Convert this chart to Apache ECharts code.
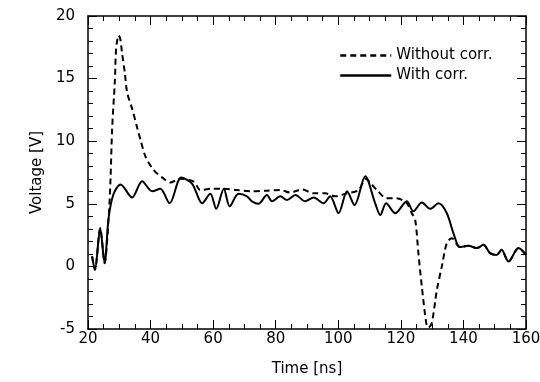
<!DOCTYPE html>
<html><head><meta charset="utf-8">
<script src="https://cdn.jsdelivr.net/npm/echarts@6/dist/echarts.min.js"></script>
<style>html,body{margin:0;padding:0;background:#fff}#c{width:540px;height:382px}</style>
</head><body><div id="c"></div>
<script>
var xTicks = [20, 40, 60, 80, 100, 120, 140, 160];
var yTicks = [-5, 0, 5, 10, 15, 20];
var seriesNames = ['Without corr.', 'With corr.'];
var withT = [21.3,22.2,23.9,25.3,26.6,28.2,30.4,34.1,37.3,40.5,43.1,46.1,49.8,53.3,56.5,59.1,61.0,63.4,65.3,68.1,70.8,72.4,74.5,77.2,78.8,81.5,83.6,86.3,89.4,92.1,95.3,97.4,100.1,102.8,105.2,108.6,111.8,113.4,115.3,118.2,121.9,124.0,126.7,129.4,132.0,134.7,136.8,138.9,141.6,144.3,146.4,148.5,150.6,152.2,154.4,157.6,160];
var withV = [0.8,-0.27,3.05,0.26,3.9,5.8,6.55,5.5,6.8,6.0,6.2,5.04,7.1,6.6,5.04,5.8,4.6,6.2,4.8,5.8,5.6,5.2,5.0,5.7,5.2,5.6,5.3,5.7,5.2,5.5,5.04,5.6,4.25,6.0,4.9,7.2,5.04,4.1,5.04,4.25,5.2,4.4,5.1,4.6,5.04,4.25,2.65,1.54,1.64,1.46,1.72,1.06,0.92,1.32,0.39,1.46,0.92];
var withoutT = [21.3,22.2,23.9,25.3,26.6,27.2,27.7,28.6,29.0,29.8,30.3,30.9,31.8,32.5,34.1,35.7,36.8,38.4,41.0,44.2,46.3,49.5,53.8,55.9,59.5,63.4,67.6,72.0,77.2,81.5,84.6,88.4,92.1,95.8,99.0,102.8,106.5,108.8,110.5,112.8,115.5,118.7,121.9,123.5,124.6,125.6,126.7,128.1,128.8,129.9,131.5,133.1,134.7,136.3,138.9,141.6,144.3,146.4,148.5,150.6,152.2,154.4,157.6,160];
var withoutV = [0.8,-0.27,3.05,0.26,3.9,7.0,10.9,14.9,17.4,18.45,18.2,17.0,15.4,13.9,12.6,11.1,10.1,8.76,7.7,7.0,6.7,7.0,6.77,6.1,6.2,6.2,6.1,6.0,6.05,6.1,5.9,6.15,5.84,5.84,5.6,5.84,6.1,7.0,6.6,5.97,5.44,5.44,5.04,4.25,3.7,1.06,-1.6,-4.5,-4.9,-4.5,-1.9,0,1.86,2.25,1.54,1.64,1.46,1.72,1.06,0.92,1.32,0.39,1.46,0.92];

function pairs(t, v) { return t.map(function (x, i) { return [x, v[i]]; }); }
var font = 'DejaVu Sans, Liberation Sans, Arial, sans-serif';
var fs = 15;
function axisBase(extra) {
  var a = {
    axisLine: { show: true, onZero: false, lineStyle: { color: '#000', width: 1.5 } },
    axisTick: { show: true, inside: true, length: 9, lineStyle: { color: '#000', width: 1 } },
    splitLine: { show: false },
    minorSplitLine: { show: false }
  };
  for (var k in extra) a[k] = extra[k];
  return a;
}
var chart = echarts.init(document.getElementById('c'), null, { renderer: 'canvas' });
chart.setOption({
  animation: false,
  backgroundColor: '#fff',
  textStyle: { fontFamily: font },
  grid: { left: 88, right: 14, top: 16, bottom: 53, containLabel: false, outerBoundsMode: 'none' },
  legend: {
    orient: 'vertical', left: 339, top: 48, itemWidth: 51, itemHeight: 14, itemGap: 5, padding: 0,
    itemStyle: { opacity: 0 },
    lineStyle: { width: 2.5 },
    textStyle: { fontSize: fs, color: '#000', fontFamily: font },
    data: seriesNames
  },
  xAxis: [
    axisBase({ type: 'value', min: xTicks[0], max: xTicks[xTicks.length - 1], interval: 20, position: 'bottom',
      minorTick: { show: true, splitNumber: 4, length: 5, lineStyle: { color: '#000' } },
      axisLabel: { fontSize: fs, color: '#000', margin: 3, fontFamily: font },
      name: 'Time [ns]', nameLocation: 'middle', nameGap: 33,
      nameTextStyle: { fontSize: fs, color: '#000', fontFamily: font } }),
    axisBase({ type: 'value', min: xTicks[0], max: xTicks[xTicks.length - 1], interval: 20, position: 'top',
      minorTick: { show: true, splitNumber: 4, length: 5, lineStyle: { color: '#000' } },
      axisLabel: { show: false } })
  ],
  yAxis: [
    axisBase({ type: 'value', min: yTicks[0], max: yTicks[yTicks.length - 1], interval: 5, position: 'left',
      minorTick: { show: true, splitNumber: 5, length: 5, lineStyle: { color: '#000' } },
      axisLabel: { fontSize: fs, color: '#000', margin: 13, fontFamily: font },
      name: 'Voltage [V]', nameLocation: 'middle', nameGap: 40,
      nameTextStyle: { fontSize: fs, color: '#000', fontFamily: font } }),
    axisBase({ type: 'value', min: yTicks[0], max: yTicks[yTicks.length - 1], interval: 5, position: 'right',
      minorTick: { show: true, splitNumber: 5, length: 5, lineStyle: { color: '#000' } },
      axisLabel: { show: false } })
  ],
  series: [
    { name: seriesNames[0], type: 'line', data: pairs(withoutT, withoutV), smooth: 0.3, symbol: 'none',
      clip: true, lineStyle: { color: '#000', width: 2, type: [6, 4] }, itemStyle: { color: '#000' } },
    { name: seriesNames[1], type: 'line', data: pairs(withT, withV), smooth: 0.3, symbol: 'none',
      clip: true, lineStyle: { color: '#000', width: 2, type: 'solid' }, itemStyle: { color: '#000' } }
  ]
});
</script></body></html>
